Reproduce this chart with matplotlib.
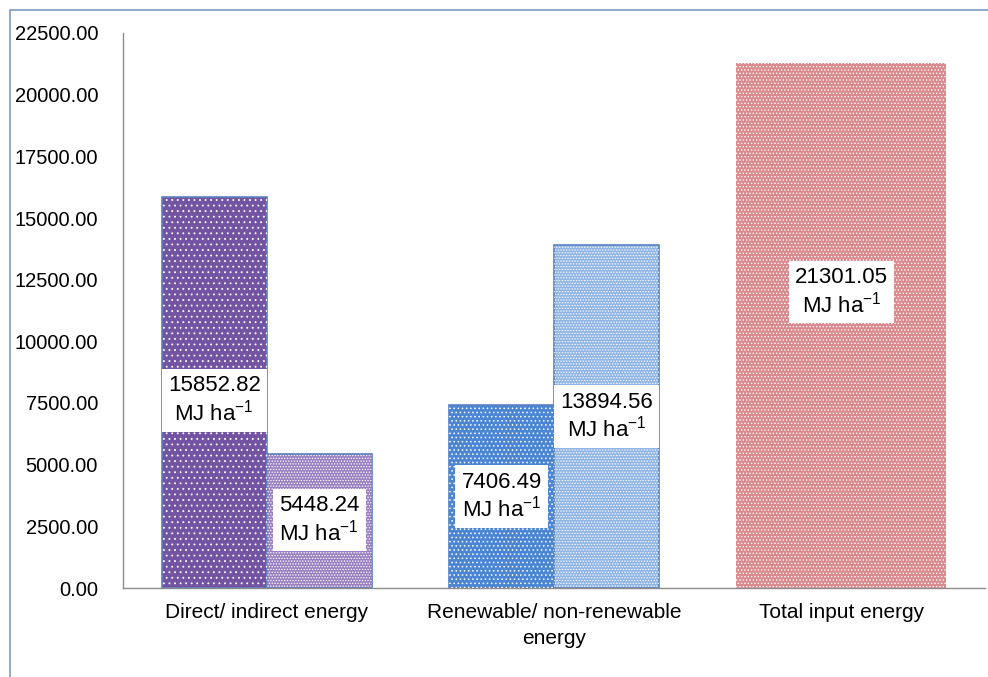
import matplotlib.pyplot as plt
import matplotlib.patches as mpatches
import numpy as np

plt.rcParams["font.family"] = ["Liberation Sans", "DejaVu Sans"]
plt.rcParams["hatch.linewidth"] = 0.6
plt.rcParams["mathtext.default"] = "regular"

categories = ["Direct/ indirect energy", "Renewable/ non-renewable\nenergy", "Total input energy"]
first_values = [15852.82, 7406.49, 21301.05]
second_values = [5448.24, 13894.56]
y_ticks = [0, 2500, 5000, 7500, 10000, 12500, 15000, 17500, 20000, 22500]

# label heights as fraction of bar height (manual placement as in the original)
first_label_frac = [0.48, 0.50, 0.563]
second_label_frac = [0.506, 0.50]

first_colors = ["#7354A3", "#4A86D3", "#DA8A8E"]
first_hatch = ["...", "....", "....."]
first_edges = ["#5B80C0", "#5B80C0", "none"]
second_colors = ["#9A80C0", "#8FB5E6"]
second_hatch = ["......", "......"]

fig = plt.figure(figsize=(9.88, 6.77), dpi=100)
frame = mpatches.Rectangle((10 / 988, -0.1), 1, 1.1 - 10 / 677, transform=fig.transFigure,
                           facecolor="white", edgecolor="#7A9CC6", linewidth=1.2, zorder=-10)
fig.patches.append(frame)
ax = fig.add_axes([123 / 988, 1 - 588 / 677, (985 - 123) / 988, (588 - 33) / 677])
ax.set_facecolor("none")
ax.set_zorder(5)

x = np.arange(len(categories))
w = 0.365

label_kw = dict(ha="center", va="center", fontsize=16, linespacing=1.15,
                bbox=dict(facecolor="white", edgecolor="none", pad=4.5))

for i in range(len(categories)):
    if i < len(second_values):
        pos1 = x[i] - w / 2
        width1 = w
    else:
        pos1 = x[i]
        width1 = 2 * w
    ax.bar(pos1, first_values[i], width=width1, color=first_colors[i],
           edgecolor=first_edges[i], linewidth=1.2, zorder=2)
    ax.bar(pos1, first_values[i], width=width1, color="none", hatch=first_hatch[i],
           edgecolor="white", linewidth=0, zorder=3)
    ax.text(pos1, first_values[i] * first_label_frac[i],
            f"{first_values[i]:.2f}\nMJ ha$^{{-1}}$", zorder=5, **label_kw)
    if i < len(second_values):
        pos2 = x[i] + w / 2
        ax.bar(pos2, second_values[i], width=w, color=second_colors[i],
               edgecolor="#5B80C0", linewidth=1.2, zorder=2)
        ax.bar(pos2, second_values[i], width=w, color="none", hatch=second_hatch[i],
               edgecolor="white", linewidth=0, zorder=3)
        ax.text(pos2, second_values[i] * second_label_frac[i],
                f"{second_values[i]:.2f}\nMJ ha$^{{-1}}$", zorder=5, **label_kw)

ax.set_xlim(-0.5, 2.5)
ax.set_ylim(0, 22500)
ax.set_yticks(y_ticks)
ax.set_yticklabels([f"{v:.2f}" for v in y_ticks])
ax.set_xticks(x)
ax.set_xticklabels(categories, linespacing=1.45)
ax.tick_params(axis="y", length=0, pad=18, labelsize=14.5)
ax.tick_params(axis="x", length=0, pad=11, labelsize=15)
for side in ["top", "right"]:
    ax.spines[side].set_visible(False)
for side in ["left", "bottom"]:
    ax.spines[side].set_color("#8C8C8C")
    ax.spines[side].set_linewidth(1.0)

fig.savefig("out.png", dpi=100)
